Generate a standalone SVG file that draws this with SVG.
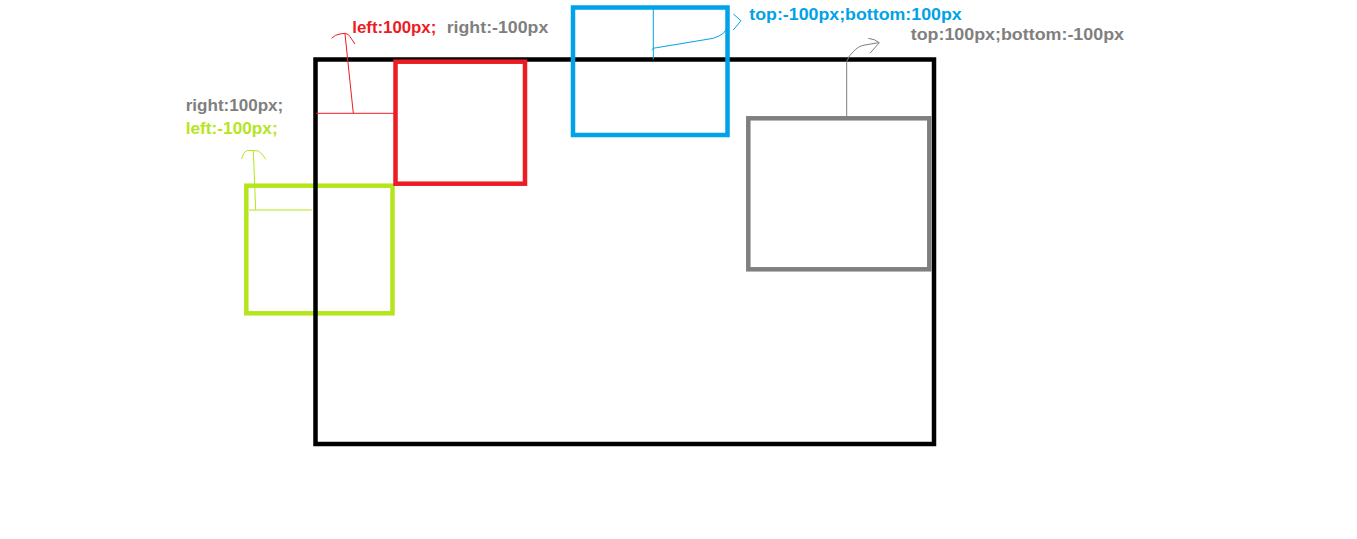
<svg xmlns="http://www.w3.org/2000/svg" width="1357" height="539" viewBox="0 0 1357 539">
<style>
.box{fill:none;stroke-width:4.5}
.ln{fill:none;stroke-width:1}
.t{font-family:"Liberation Sans",Arial,sans-serif;font-weight:bold;font-size:17px}
.red{stroke:#ED1C24}.blue{stroke:#00A2E8}.gray{stroke:#7F7F7F}.green{stroke:#B5E61D}
</style>
<rect width="1357" height="539" fill="#fff"/>
<g id="green-box"><rect class="box green" x="246.3" y="185.7" width="146.2" height="127.6"/></g>
<g id="container"><rect class="box" stroke="#000" x="315.5" y="59.5" width="618.5" height="384.5"/></g>
<g id="red-box"><rect class="box red" x="395.5" y="61.7" width="129.5" height="122"/></g>
<g id="blue-box"><rect class="box blue" x="573" y="7.5" width="154.5" height="127.5"/></g>
<g id="gray-box"><rect class="box gray" x="748.3" y="118.3" width="181" height="151"/></g>
<g id="connectors">
<path class="ln red" d="M316 113.3H394M353.3 113.3L345 34"/>
<path class="ln red" d="M331.7 38.3Q335 34.5 340 34L345 33.3Q349 34 350 36.7L355 44"/>
<path class="ln green" d="M249 210H311.7M255.7 210L253.3 151"/>
<path class="ln green" d="M241.7 159Q243 152 247.3 150.5L253 150.5L258.3 151Q262 153 265.7 159.3"/>
<path class="ln blue" d="M653.3 9V59.3M651.7 50Q653 47.5 656.7 47.7L713.3 38.3Q720 36 723.3 33.3Q727 30 726.7 26.7"/>
<path class="ln blue" d="M733.3 14L741 20.7L733.3 30"/>
<path class="ln gray" d="M846.7 116.7V61.7Q849 55 853.3 51.7Q858 46 865 45L878.3 42.7"/>
<path class="ln gray" d="M868.3 38.3Q875 39 879.3 42.7L870 53.3"/>
</g>
<g id="labels">
<text class="t" x="352.3" y="33.3" fill="#ED1C24" textLength="84" lengthAdjust="spacingAndGlyphs">left:100px;</text>
<text class="t" x="446.7" y="33.3" fill="#7F7F7F" textLength="101.6" lengthAdjust="spacingAndGlyphs">right:-100px</text>
<text class="t" x="749.3" y="20" fill="#00A2E8" textLength="212.4" lengthAdjust="spacingAndGlyphs">top:-100px;bottom:100px</text>
<text class="t" x="910.7" y="40" fill="#7F7F7F" textLength="213.3" lengthAdjust="spacingAndGlyphs">top:100px;bottom:-100px</text>
<text class="t" x="185.7" y="110.7" fill="#7F7F7F" textLength="97.6" lengthAdjust="spacingAndGlyphs">right:100px;</text>
<text class="t" x="185.7" y="134" fill="#B5E61D" textLength="92" lengthAdjust="spacingAndGlyphs">left:-100px;</text>
</g>
</svg>
